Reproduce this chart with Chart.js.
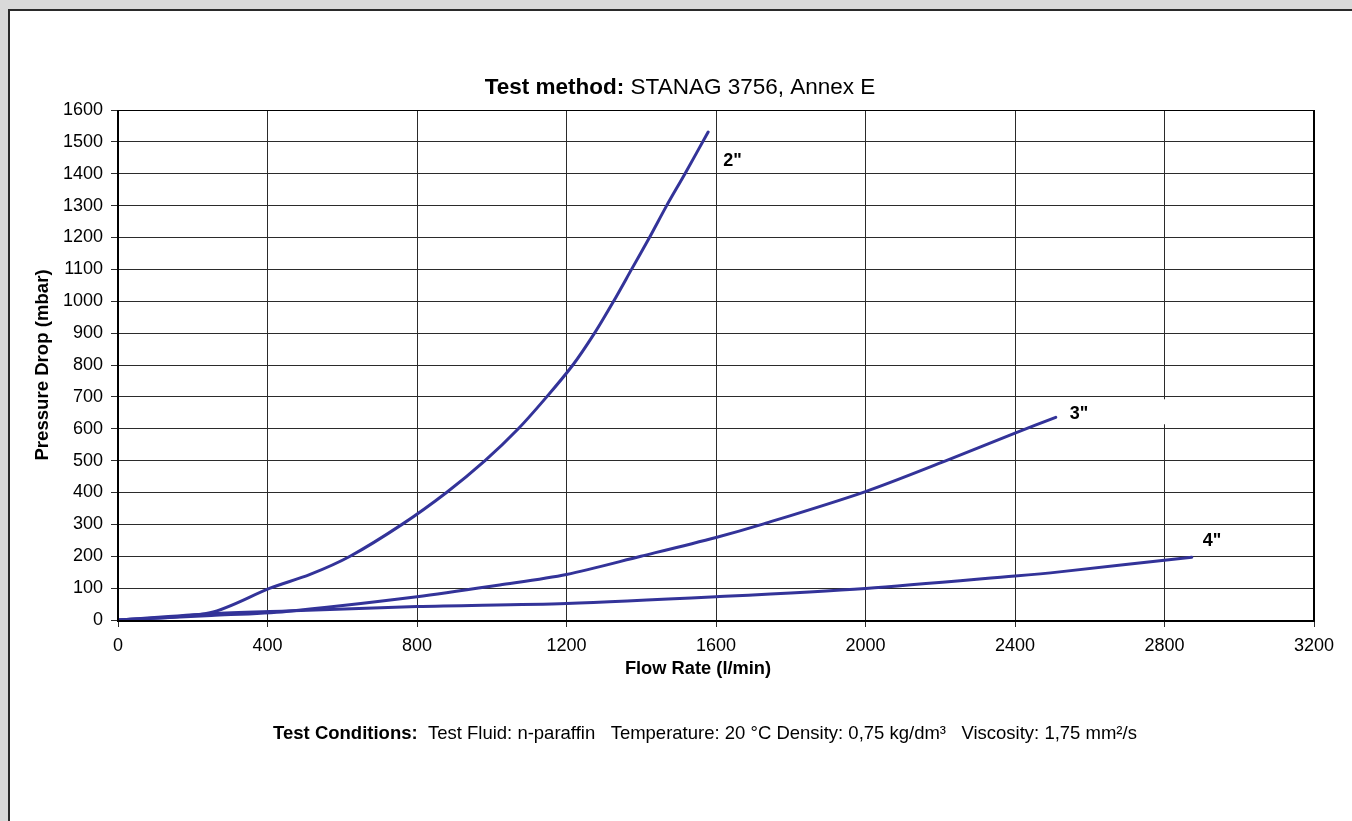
<!DOCTYPE html>
<html>
<head>
<meta charset="utf-8">
<script src="https://cdn.jsdelivr.net/npm/chart.js@4.4.1/dist/chart.umd.min.js"></script>
<style>
html,body{margin:0;padding:0;background:#d9d9d9;overflow:hidden;}
#wrap{position:absolute;left:0;top:0;width:1352px;height:821px;}
</style>
</head>
<body>
<div id="wrap"><canvas id="c" width="1352" height="821"></canvas></div>
<script>
// ---- data ----
const flow2 = [0, 246, 407, 514, 621, 760, 879, 982, 1071, 1147, 1217, 1275, 1326, 1374, 1422, 1468, 1517, 1579];
const drop2 = [0, 23, 100, 143, 200, 300, 400, 500, 600, 700, 800, 900, 1000, 1100, 1200, 1300, 1400, 1531];
const flow3 = [0, 250, 450, 800, 1021, 1200, 1399, 1600, 1723, 2000, 2216, 2400, 2509];
const drop3 = [0, 14, 27, 73, 110, 143, 200, 259, 300, 403, 500, 586, 636];
const flow4 = [0, 250, 450, 800, 1200, 1600, 2000, 2400, 2519, 2873];
const drop4 = [0, 20, 28, 42, 52, 73, 99, 138, 151, 197];
const seriesNames = ['2"', '3"', '4"'];
const xTicks = [0, 400, 800, 1200, 1600, 2000, 2400, 2800, 3200];
const yTicks = [0,100,200,300,400,500,600,700,800,900,1000,1100,1200,1300,1400,1500,1600];
const titleBold = 'Test method:';
const titleRest = ' STANAG 3756, Annex E';
const xTitle = 'Flow Rate (l/min)';
const yTitle = 'Pressure Drop (mbar)';
const footBold = 'Test Conditions:';
const footRest = '  Test Fluid: n-paraffin   Temperature: 20 °C Density: 0,75 kg/dm³   Viscosity: 1,75 mm²/s';

const LINE = '#333399';
const FONT = '"Liberation Sans", Arial, sans-serif';
const zip = (xs, ys) => xs.map((x, i) => ({x, y: ys[i]}));

const pagePlugin = {
  id: 'page',
  beforeDraw(chart) {
    const ctx = chart.ctx;
    ctx.save();
    ctx.fillStyle = '#d9d9d9';
    ctx.fillRect(0, 0, 1352, 821);
    ctx.fillStyle = '#ffffff';
    ctx.fillRect(9, 10, 1343, 811);
    ctx.fillStyle = '#2a2a2a';
    ctx.fillRect(8, 9, 1344, 2);
    ctx.fillRect(8, 9, 2, 812);
    ctx.restore();
  },
  beforeDatasetsDraw(chart) {
    const ctx = chart.ctx, xs = chart.scales.x, ys = chart.scales.y;
    const px = xs.getPixelForValue(flow3[flow3.length - 1]);
    const py = ys.getPixelForValue(drop3[drop3.length - 1]);
    ctx.save();
    ctx.fillStyle = '#fff';
    ctx.fillRect(px + 6, py - 18, 107, 25);
    ctx.restore();
  },
  afterDraw(chart) {
    const ctx = chart.ctx, a = chart.chartArea, xs = chart.scales.x, ys = chart.scales.y;
    ctx.save();
    ctx.fillStyle = '#000';
    ctx.textBaseline = 'middle';
    ctx.strokeStyle = '#000';
    ctx.lineWidth = 1;
    ctx.strokeRect(a.left + 0.5, a.top + 0.5, a.right - a.left - 1, a.bottom - a.top);
    ctx.lineWidth = 2;
    ctx.beginPath();
    ctx.moveTo(a.left, a.top); ctx.lineTo(a.left, a.bottom + 1);
    ctx.lineTo(a.right + 1, a.bottom + 1);
    ctx.moveTo(a.right, a.top); ctx.lineTo(a.right, a.bottom);
    ctx.stroke();
    const mixed = (bold, rest, size, cx, cy) => {
      ctx.font = 'bold ' + size + 'px ' + FONT;
      const w1 = ctx.measureText(bold).width;
      ctx.font = size + 'px ' + FONT;
      const w2 = ctx.measureText(rest).width;
      let x0 = cx - (w1 + w2) / 2;
      ctx.textAlign = 'left';
      ctx.font = 'bold ' + size + 'px ' + FONT;
      ctx.fillText(bold, x0, cy);
      ctx.font = size + 'px ' + FONT;
      ctx.fillText(rest, x0 + w1, cy);
    };
    mixed(titleBold, titleRest, 22.5, 680, 88);
    mixed(footBold, footRest, 18.5, 705, 734);
    ctx.font = 'bold 18.3px ' + FONT;
    ctx.textAlign = 'center';
    ctx.fillText(xTitle, 698, 669);
    ctx.save();
    ctx.translate(43, 365);
    ctx.rotate(-Math.PI / 2);
    ctx.font = 'bold 18.6px ' + FONT;
    ctx.fillText(yTitle, 0, 0);
    ctx.restore();
    ctx.font = 'bold 18px ' + FONT;
    ctx.textAlign = 'left';
    const ends = [[flow2, drop2, 15, 29], [flow3, drop3, 14, -3], [flow4, drop4, 11, -16]];
    ends.forEach((e, i) => {
      const px = xs.getPixelForValue(e[0][e[0].length - 1]);
      const py = ys.getPixelForValue(e[1][e[1].length - 1]);
      ctx.fillText(seriesNames[i], px + e[2], py + e[3]);
    });
    ctx.restore();
  }
};

new Chart(document.getElementById('c'), {
  type: 'line',
  data: {
    datasets: [
      {label: seriesNames[0], data: zip(flow2, drop2)},
      {label: seriesNames[1], data: zip(flow3, drop3)},
      {label: seriesNames[2], data: zip(flow4, drop4)}
    ].map(d => Object.assign(d, {
      borderColor: LINE, backgroundColor: LINE, borderWidth: 3,
      pointRadius: 0, fill: false, tension: 0.3,
      borderCapStyle: 'round', borderJoinStyle: 'round'
    }))
  },
  options: {
    responsive: false,
    animation: false,
    devicePixelRatio: 1,
    layout: {padding: {left: 0, top: 110, right: 38, bottom: 0}},
    plugins: {legend: {display: false}, tooltip: {enabled: false}, title: {display: false}},
    scales: {
      x: {
        type: 'linear', min: 0, max: 3200,
        afterBuildTicks: s => { s.ticks = xTicks.map(v => ({value: v})); },
        afterFit: s => { s.height = 201; },
        grid: {color: '#2b2b2b', lineWidth: 1, tickLength: 7, drawTicks: true},
        border: {display: false},
        ticks: {color: '#000', font: {family: FONT, size: 18}, padding: 8, maxRotation: 0,
                callback: v => String(v)}
      },
      y: {
        type: 'linear', min: 0, max: 1600,
        afterBuildTicks: s => { s.ticks = yTicks.map(v => ({value: v})); },
        afterFit: s => { s.width = 118; },
        grid: {color: '#2b2b2b', lineWidth: 1, tickLength: 7, drawTicks: true},
        border: {display: false},
        ticks: {color: '#000', font: {family: FONT, size: 18}, padding: 8,
                callback: v => String(v)}
      }
    }
  },
  plugins: [pagePlugin]
});
</script>
</body>
</html>
